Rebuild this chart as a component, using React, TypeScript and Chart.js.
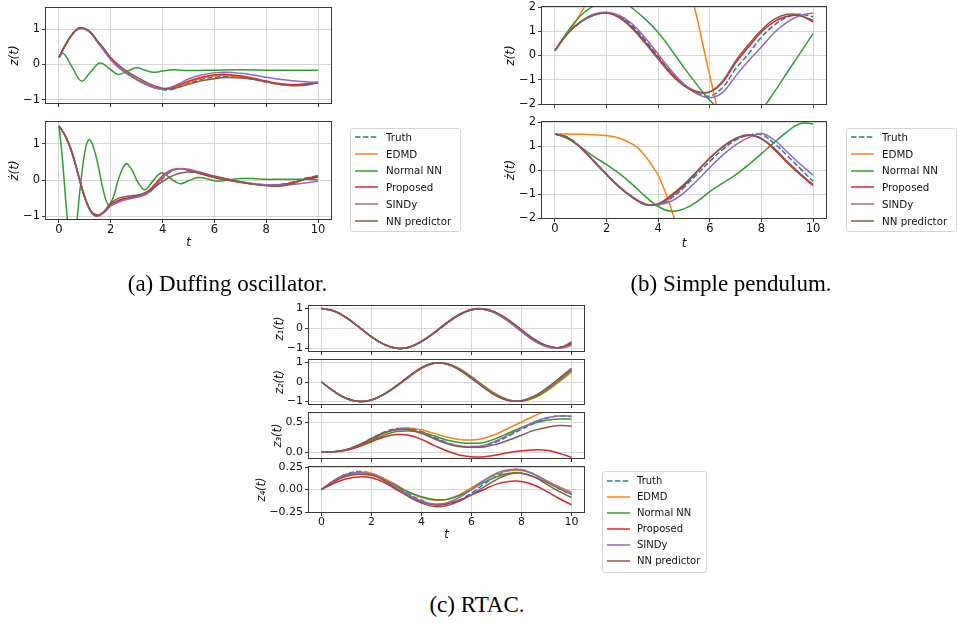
import React, { useEffect, useRef } from 'react';
import { Chart, registerables } from 'chart.js';

Chart.register(...registerables);

// ---------- shared ----------
const SERIES_NAMES = ['Truth', 'EDMD', 'Normal NN', 'Proposed', 'SINDy', 'NN predictor'];
const SERIES_COLORS = ['#1f77b4', '#ff7f0e', '#2ca02c', '#d62728', '#9467bd', '#8c564b'];
const X_TICKS = [0, 2, 4, 6, 8, 10];

// time grids
const T_A = [0, 0.25, 0.5, 0.75, 1, 1.25, 1.5, 1.75, 2, 2.25, 2.5, 2.75, 3, 3.25, 3.5, 3.75, 4, 4.25, 4.5, 4.75, 5, 5.5, 6, 6.5, 7, 7.5, 8, 8.5, 9, 9.5, 10];
const T_HALF = [0, 0.5, 1, 1.5, 2, 2.5, 3, 3.5, 4, 4.5, 5, 5.5, 6, 6.5, 7, 7.5, 8, 8.5, 9, 9.5, 10];

// ---------- (a) Duffing oscillator: z(t) ----------
const DUFF_Z_TRUTH = [0.2, 0.55, 0.84, 1.02, 1.01, 0.88, 0.63, 0.39, 0.15, -0.04, -0.19, -0.31, -0.42, -0.52, -0.6, -0.67, -0.71, -0.72, -0.67, -0.6, -0.53, -0.42, -0.36, -0.34, -0.36, -0.42, -0.5, -0.56, -0.59, -0.57, -0.5];
const DUFF_Z_EDMD = [0.2, 0.55, 0.84, 1.02, 1.01, 0.88, 0.63, 0.39, 0.15, -0.04, -0.19, -0.31, -0.42, -0.52, -0.6, -0.67, -0.7, -0.69, -0.64, -0.57, -0.5, -0.39, -0.32, -0.31, -0.35, -0.41, -0.49, -0.55, -0.58, -0.56, -0.5];
const T_DUFF_Z_NN = [0, 0.16, 0.5, 0.87, 1.2, 1.58, 1.95, 2.29, 2.65, 3.0, 3.3, 3.64, 4.0, 4.4, 5, 6, 7, 8, 9, 10];
const DUFF_Z_NN = [0.2, 0.32, -0.06, -0.47, -0.23, 0.04, -0.12, -0.28, -0.185, -0.09, -0.155, -0.22, -0.185, -0.15, -0.17, -0.16, -0.15, -0.16, -0.16, -0.16];
const DUFF_Z_PROP = [0.2, 0.55, 0.84, 1.02, 1.01, 0.88, 0.63, 0.39, 0.15, -0.04, -0.19, -0.31, -0.42, -0.52, -0.6, -0.66, -0.69, -0.68, -0.62, -0.55, -0.47, -0.36, -0.29, -0.28, -0.32, -0.39, -0.47, -0.54, -0.57, -0.55, -0.5];
const DUFF_Z_SINDY = [0.2, 0.55, 0.83, 1.0, 1.0, 0.87, 0.62, 0.38, 0.14, -0.05, -0.2, -0.32, -0.43, -0.53, -0.61, -0.67, -0.69, -0.66, -0.59, -0.5, -0.41, -0.3, -0.23, -0.22, -0.25, -0.3, -0.36, -0.42, -0.46, -0.49, -0.51];
const DUFF_Z_NNP = [0.2, 0.56, 0.85, 1.03, 1.02, 0.9, 0.66, 0.44, 0.2, 0.02, -0.13, -0.25, -0.36, -0.46, -0.55, -0.62, -0.67, -0.69, -0.67, -0.62, -0.56, -0.46, -0.4, -0.37, -0.38, -0.42, -0.49, -0.56, -0.6, -0.59, -0.52];

// ---------- (a) Duffing oscillator: dz/dt ----------
const DUFF_DZ_TRUTH = [1.5, 1.22, 0.78, 0.14, -0.48, -0.88, -0.98, -0.88, -0.7, -0.6, -0.54, -0.5, -0.46, -0.42, -0.33, -0.16, 0.04, 0.2, 0.29, 0.31, 0.28, 0.18, 0.08, 0.01, -0.05, -0.1, -0.13, -0.12, -0.06, 0.05, 0.12];
const DUFF_DZ_EDMD = [1.5, 1.22, 0.78, 0.14, -0.48, -0.88, -0.98, -0.88, -0.69, -0.59, -0.53, -0.49, -0.45, -0.4, -0.3, -0.12, 0.08, 0.23, 0.3, 0.31, 0.27, 0.17, 0.07, 0.0, -0.06, -0.11, -0.14, -0.13, -0.08, 0.02, 0.1];
const T_DUFF_DZ_NN = [0, 0.1, 0.2, 0.3, 0.4, 0.5, 0.6, 0.7, 0.8, 0.93, 1.05, 1.16, 1.3, 1.5, 1.7, 1.91, 2.1, 2.3, 2.58, 2.8, 3.05, 3.32, 3.6, 3.96, 4.3, 4.67, 5.0, 5.38, 5.75, 6.1, 6.6, 7, 7.5, 8, 8.5, 9, 9.5, 10];
const DUFF_DZ_NN = [1.5, 0.85, 0.0, -0.9, -1.6, -2.0, -1.8, -1.1, -0.35, 0.45, 0.95, 1.12, 0.98, 0.45, -0.25, -0.68, -0.47, 0.03, 0.45, 0.3, -0.06, -0.27, -0.05, 0.2, 0.05, -0.1, -0.02, 0.07, 0.03, -0.03, 0.01, 0.04, 0.04, 0.02, 0.02, 0.02, 0.02, 0.01];
const DUFF_DZ_PROP = [1.5, 1.22, 0.78, 0.14, -0.48, -0.88, -0.97, -0.87, -0.68, -0.58, -0.52, -0.48, -0.44, -0.38, -0.27, -0.08, 0.12, 0.25, 0.31, 0.31, 0.27, 0.17, 0.07, 0.0, -0.06, -0.11, -0.14, -0.13, -0.08, 0.02, 0.08];
const DUFF_DZ_SINDY = [1.5, 1.22, 0.78, 0.14, -0.48, -0.88, -0.99, -0.9, -0.72, -0.63, -0.56, -0.52, -0.48, -0.43, -0.33, -0.14, 0.08, 0.22, 0.3, 0.32, 0.3, 0.21, 0.1, 0.02, -0.05, -0.1, -0.13, -0.14, -0.12, -0.08, -0.03];
const DUFF_DZ_NNP = [1.5, 1.22, 0.76, 0.12, -0.5, -0.9, -1.0, -0.86, -0.64, -0.52, -0.47, -0.44, -0.42, -0.38, -0.3, -0.17, -0.04, 0.07, 0.15, 0.2, 0.22, 0.19, 0.11, 0.03, -0.05, -0.12, -0.16, -0.17, -0.1, 0.03, 0.12];

// ---------- (b) Simple pendulum: z(t) ----------
const PEND_Z_TRUTH = [0.2, 0.92, 1.38, 1.65, 1.74, 1.6, 1.22, 0.62, -0.05, -0.7, -1.2, -1.55, -1.67, -1.31, -0.55, 0.07, 0.76, 1.25, 1.59, 1.7, 1.6];
const T_PEND_Z_EDMD = [0, 0.25, 0.5, 0.75, 1, 1.25, 1.5, 2, 3, 4, 4.5, 5, 5.4, 5.8, 6.25, 6.5, 7, 8, 9, 10];
const PEND_Z_EDMD = [0.2, 0.58, 0.93, 1.3, 1.74, 2.2, 2.65, 3.4, 4.5, 4.6, 4.1, 3.3, 2.0, 0.1, -2.0, -3.2, -5.4, -9, -12, -15];
const PEND_Z_NN = [0.2, 1.0, 1.65, 2.05, 2.35, 2.35, 1.95, 1.5, 0.95, 0.25, -0.5, -1.2, -1.85, -2.3, -2.5, -2.45, -2.2, -1.5, -0.7, 0.1, 0.9];
const PEND_Z_PROP = [0.2, 0.92, 1.4, 1.68, 1.76, 1.58, 1.15, 0.55, -0.1, -0.72, -1.2, -1.48, -1.5, -1.1, -0.3, 0.35, 0.97, 1.4, 1.62, 1.64, 1.38];
const PEND_Z_SINDY = [0.2, 0.92, 1.4, 1.7, 1.78, 1.65, 1.3, 0.72, 0.05, -0.62, -1.18, -1.58, -1.74, -1.52, -0.85, -0.22, 0.35, 0.95, 1.38, 1.65, 1.75];
const PEND_Z_NNP = [0.2, 0.92, 1.38, 1.66, 1.75, 1.55, 1.1, 0.5, -0.15, -0.78, -1.25, -1.52, -1.5, -1.05, -0.22, 0.45, 1.05, 1.5, 1.7, 1.65, 1.45];

// ---------- (b) Simple pendulum: dz/dt ----------
const PEND_DZ_TRUTH = [1.5, 1.36, 0.95, 0.4, -0.17, -0.7, -1.12, -1.42, -1.46, -1.18, -0.72, -0.18, 0.36, 0.85, 1.25, 1.45, 1.47, 1.1, 0.6, 0.06, -0.47];
const T_PEND_DZ_EDMD = [0, 0.5, 1, 1.5, 2, 2.5, 3, 3.25, 3.5, 3.75, 4, 4.25, 4.5, 4.75, 5, 6, 8, 10];
const PEND_DZ_EDMD = [1.5, 1.5, 1.49, 1.47, 1.43, 1.32, 1.08, 0.88, 0.58, 0.2, -0.22, -0.85, -1.6, -2.5, -3.5, -8, -15, -20];
const PEND_DZ_NN = [1.5, 1.3, 0.95, 0.57, 0.22, -0.15, -0.6, -1.1, -1.52, -1.72, -1.62, -1.32, -0.9, -0.55, -0.2, 0.22, 0.68, 1.15, 1.6, 1.94, 1.92];
const PEND_DZ_PROP = [1.5, 1.35, 0.93, 0.38, -0.18, -0.7, -1.12, -1.42, -1.44, -1.1, -0.65, -0.08, 0.5, 0.95, 1.3, 1.44, 1.3, 0.85, 0.3, -0.2, -0.65];
const PEND_DZ_SINDY = [1.5, 1.35, 0.93, 0.38, -0.2, -0.72, -1.15, -1.44, -1.45, -1.3, -0.95, -0.45, 0.1, 0.62, 1.05, 1.35, 1.52, 1.25, 0.75, 0.25, -0.22];
const PEND_DZ_NNP = [1.5, 1.35, 0.92, 0.36, -0.2, -0.72, -1.14, -1.45, -1.4, -1.05, -0.6, -0.05, 0.5, 0.98, 1.32, 1.47, 1.32, 0.9, 0.35, -0.15, -0.6];

// ---------- (c) RTAC ----------
const RTAC_Z1_TRUTH = [1.0, 0.88, 0.54, 0.07, -0.42, -0.8, -0.99, -0.94, -0.65, -0.21, 0.28, 0.7, 0.95, 0.97, 0.75, 0.35, -0.14, -0.6, -0.9, -0.97, -0.8];
const RTAC_Z1_EDMD = [1.0, 0.88, 0.54, 0.07, -0.42, -0.8, -0.99, -0.94, -0.66, -0.23, 0.26, 0.68, 0.94, 0.97, 0.77, 0.38, -0.1, -0.56, -0.87, -0.97, -0.76];
const RTAC_Z1_NN = [1.0, 0.88, 0.54, 0.07, -0.42, -0.8, -0.99, -0.94, -0.65, -0.22, 0.27, 0.69, 0.94, 0.97, 0.76, 0.37, -0.12, -0.58, -0.88, -0.97, -0.78];
const RTAC_Z1_PROP = [1.0, 0.88, 0.54, 0.07, -0.42, -0.8, -0.99, -0.94, -0.66, -0.23, 0.25, 0.67, 0.93, 0.96, 0.78, 0.4, -0.08, -0.54, -0.86, -0.96, -0.74];
const RTAC_Z1_SINDY = [1.0, 0.88, 0.54, 0.07, -0.42, -0.8, -0.99, -0.94, -0.64, -0.2, 0.29, 0.71, 0.96, 0.98, 0.74, 0.33, -0.16, -0.62, -0.92, -0.98, -0.86];
const RTAC_Z1_NNP = [1.0, 0.88, 0.54, 0.07, -0.42, -0.8, -0.99, -0.94, -0.65, -0.22, 0.26, 0.68, 0.95, 0.99, 0.8, 0.42, -0.06, -0.52, -0.85, -0.97, -0.68];

const RTAC_Z2_TRUTH = [0.0, -0.48, -0.85, -1.0, -0.92, -0.63, -0.2, 0.28, 0.72, 0.97, 0.93, 0.66, 0.22, -0.26, -0.68, -0.94, -0.97, -0.77, -0.38, 0.12, 0.62];
const RTAC_Z2_EDMD = [0.0, -0.48, -0.85, -1.0, -0.92, -0.64, -0.22, 0.25, 0.69, 0.95, 0.95, 0.7, 0.28, -0.2, -0.63, -0.92, -0.99, -0.83, -0.48, 0.01, 0.5];
const RTAC_Z2_NN = [0.0, -0.48, -0.85, -1.0, -0.92, -0.63, -0.21, 0.27, 0.71, 0.96, 0.94, 0.68, 0.25, -0.23, -0.66, -0.93, -0.98, -0.8, -0.42, 0.07, 0.58];
const RTAC_Z2_PROP = [0.0, -0.48, -0.85, -1.0, -0.92, -0.63, -0.2, 0.28, 0.72, 0.97, 0.93, 0.66, 0.21, -0.27, -0.7, -0.95, -0.97, -0.75, -0.35, 0.16, 0.68];
const RTAC_Z2_SINDY = [0.0, -0.48, -0.85, -1.0, -0.92, -0.63, -0.19, 0.29, 0.73, 0.98, 0.93, 0.65, 0.2, -0.28, -0.7, -0.95, -0.96, -0.75, -0.36, 0.14, 0.64];
const RTAC_Z2_NNP = [0.0, -0.48, -0.85, -1.0, -0.92, -0.62, -0.19, 0.3, 0.74, 0.98, 0.92, 0.63, 0.18, -0.3, -0.72, -0.96, -0.96, -0.73, -0.32, 0.18, 0.7];

const RTAC_Z3_TRUTH = [0, 0.005, 0.04, 0.12, 0.23, 0.33, 0.39, 0.39, 0.34, 0.25, 0.16, 0.1, 0.085, 0.1, 0.17, 0.27, 0.38, 0.48, 0.56, 0.6, 0.59];
const RTAC_Z3_EDMD = [0, 0.005, 0.04, 0.11, 0.21, 0.31, 0.38, 0.4, 0.37, 0.31, 0.25, 0.21, 0.2, 0.23, 0.3, 0.4, 0.5, 0.6, 0.68, 0.73, 0.75];
const RTAC_Z3_NN = [0, 0.005, 0.035, 0.1, 0.19, 0.28, 0.34, 0.35, 0.33, 0.27, 0.2, 0.16, 0.145, 0.16, 0.23, 0.32, 0.41, 0.48, 0.53, 0.55, 0.545];
const RTAC_Z3_PROP = [0, 0.004, 0.03, 0.09, 0.17, 0.25, 0.29, 0.28, 0.21, 0.11, 0.02, -0.05, -0.08, -0.08, -0.05, -0.01, 0.02, 0.035, 0.03, -0.02, -0.09];
const RTAC_Z3_SINDY = [0, 0.005, 0.04, 0.12, 0.22, 0.32, 0.38, 0.38, 0.32, 0.23, 0.15, 0.1, 0.09, 0.11, 0.19, 0.29, 0.4, 0.5, 0.57, 0.6, 0.6];
const RTAC_Z3_NNP = [0, 0.005, 0.04, 0.12, 0.22, 0.32, 0.37, 0.37, 0.31, 0.22, 0.14, 0.09, 0.08, 0.085, 0.13, 0.2, 0.28, 0.36, 0.41, 0.44, 0.43];

const RTAC_Z4_TRUTH = [0, 0.1, 0.17, 0.2, 0.18, 0.12, 0.04, -0.05, -0.12, -0.17, -0.16, -0.12, -0.04, 0.06, 0.15, 0.21, 0.22, 0.17, 0.09, 0.01, -0.06];
const RTAC_Z4_EDMD = [0, 0.09, 0.16, 0.19, 0.18, 0.12, 0.05, -0.03, -0.09, -0.12, -0.11, -0.06, 0.02, 0.1, 0.17, 0.21, 0.21, 0.17, 0.1, 0.03, -0.03];
const RTAC_Z4_NN = [0, 0.09, 0.15, 0.17, 0.16, 0.11, 0.04, -0.03, -0.08, -0.11, -0.11, -0.07, 0.0, 0.08, 0.14, 0.18, 0.18, 0.14, 0.08, 0.01, -0.05];
const RTAC_Z4_PROP = [0, 0.07, 0.12, 0.14, 0.13, 0.08, 0.0, -0.08, -0.14, -0.17, -0.16, -0.12, -0.06, 0.0, 0.06, 0.09, 0.09, 0.05, -0.02, -0.1, -0.17];
const RTAC_Z4_SINDY = [0, 0.1, 0.17, 0.19, 0.17, 0.11, 0.03, -0.06, -0.13, -0.16, -0.15, -0.09, 0.0, 0.1, 0.18, 0.22, 0.22, 0.17, 0.09, 0.02, -0.05];
const RTAC_Z4_NNP = [0, 0.09, 0.15, 0.17, 0.16, 0.1, 0.01, -0.08, -0.15, -0.19, -0.18, -0.13, -0.06, 0.03, 0.11, 0.17, 0.18, 0.14, 0.06, -0.02, -0.09];

// ---------- panel specs (layout only, values come from the arrays above) ----------
type Series = { t: number[]; y: number[] };
type Panel = {
  left: number; top: number; right: number; bottom: number;
  titleX: number; xTitleY?: number;
  yMin: number; yMax: number; yTicks: number[]; yDec: number; yTitle: string;
  fs: number; tfs: number; series: Series[];
};

const S = (t: number[], y: number[]): Series => ({ t, y });

const PANELS: Panel[] = [
  {
    left: 46, top: 8, right: 331, bottom: 103, titleX: 15,
    yMin: -1.09, yMax: 1.6, yTicks: [-1, 0, 1], yDec: 0, yTitle: 'z(t)', fs: 11.5, tfs: 12,
    series: [S(T_A, DUFF_Z_TRUTH), S(T_A, DUFF_Z_EDMD), S(T_DUFF_Z_NN, DUFF_Z_NN), S(T_A, DUFF_Z_PROP), S(T_A, DUFF_Z_SINDY), S(T_A, DUFF_Z_NNP)],
  },
  {
    left: 46, top: 122, right: 331, bottom: 219, titleX: 15, xTitleY: 243,
    yMin: -1.08, yMax: 1.61, yTicks: [-1, 0, 1], yDec: 0, yTitle: 'ż(t)', fs: 11.5, tfs: 12,
    series: [S(T_A, DUFF_DZ_TRUTH), S(T_A, DUFF_DZ_EDMD), S(T_DUFF_DZ_NN, DUFF_DZ_NN), S(T_A, DUFF_DZ_PROP), S(T_A, DUFF_DZ_SINDY), S(T_A, DUFF_DZ_NNP)],
  },
  {
    left: 542, top: 7, right: 826, bottom: 104, titleX: 511,
    yMin: -2, yMax: 2, yTicks: [-2, -1, 0, 1, 2], yDec: 0, yTitle: 'z(t)', fs: 11.5, tfs: 12,
    series: [S(T_HALF, PEND_Z_TRUTH), S(T_PEND_Z_EDMD, PEND_Z_EDMD), S(T_HALF, PEND_Z_NN), S(T_HALF, PEND_Z_PROP), S(T_HALF, PEND_Z_SINDY), S(T_HALF, PEND_Z_NNP)],
  },
  {
    left: 542, top: 122, right: 826, bottom: 218, titleX: 511, xTitleY: 244,
    yMin: -2, yMax: 2, yTicks: [-2, -1, 0, 1, 2], yDec: 0, yTitle: 'ż(t)', fs: 11.5, tfs: 12,
    series: [S(T_HALF, PEND_DZ_TRUTH), S(T_PEND_DZ_EDMD, PEND_DZ_EDMD), S(T_HALF, PEND_DZ_NN), S(T_HALF, PEND_DZ_PROP), S(T_HALF, PEND_DZ_SINDY), S(T_HALF, PEND_DZ_NNP)],
  },
  {
    left: 309, top: 306, right: 584, bottom: 351, titleX: 279.5,
    yMin: -1.13, yMax: 1.13, yTicks: [-1, 0, 1], yDec: 0, yTitle: 'z₁(t)', fs: 11, tfs: 11.5,
    series: [S(T_HALF, RTAC_Z1_TRUTH), S(T_HALF, RTAC_Z1_EDMD), S(T_HALF, RTAC_Z1_NN), S(T_HALF, RTAC_Z1_PROP), S(T_HALF, RTAC_Z1_SINDY), S(T_HALF, RTAC_Z1_NNP)],
  },
  {
    left: 309, top: 360, right: 584, bottom: 404, titleX: 279.5,
    yMin: -1.13, yMax: 1.13, yTicks: [-1, 0, 1], yDec: 0, yTitle: 'z₂(t)', fs: 11, tfs: 11.5,
    series: [S(T_HALF, RTAC_Z2_TRUTH), S(T_HALF, RTAC_Z2_EDMD), S(T_HALF, RTAC_Z2_NN), S(T_HALF, RTAC_Z2_PROP), S(T_HALF, RTAC_Z2_SINDY), S(T_HALF, RTAC_Z2_NNP)],
  },
  {
    left: 309, top: 413, right: 584, bottom: 458, titleX: 278,
    yMin: -0.1, yMax: 0.65, yTicks: [0, 0.5], yDec: 1, yTitle: 'z₃(t)', fs: 11, tfs: 11.5,
    series: [S(T_HALF, RTAC_Z3_TRUTH), S(T_HALF, RTAC_Z3_EDMD), S(T_HALF, RTAC_Z3_NN), S(T_HALF, RTAC_Z3_PROP), S(T_HALF, RTAC_Z3_SINDY), S(T_HALF, RTAC_Z3_NNP)],
  },
  {
    left: 309, top: 467, right: 584, bottom: 512, titleX: 262, xTitleY: 535,
    yMin: -0.25, yMax: 0.25, yTicks: [-0.25, 0, 0.25], yDec: 2, yTitle: 'z₄(t)', fs: 11, tfs: 11.5,
    series: [S(T_HALF, RTAC_Z4_TRUTH), S(T_HALF, RTAC_Z4_EDMD), S(T_HALF, RTAC_Z4_NN), S(T_HALF, RTAC_Z4_PROP), S(T_HALF, RTAC_Z4_SINDY), S(T_HALF, RTAC_Z4_NNP)],
  },
];

const FONT = "'DejaVu Sans', sans-serif";
const TEXT_COLOR = '#111';
const GRID_COLOR = '#d6d6d6';
const SPINE_COLOR = '#3a3a3a';
const PAD_TOP = 12;
const PAD_RIGHT = 18;

const fmt = (v: number, dec: number) => {
  const s = Math.abs(v).toFixed(dec);
  return v < 0 ? '\u2212' + s : s;
};

function geom(p: Panel) {
  const lh = p.tfs * 1.2;
  const cLeft = Math.round(p.titleX - lh / 2);
  const cTop = p.top - PAD_TOP;
  const xAxisH = p.xTitleY !== undefined ? Math.round(p.xTitleY + lh / 2 - p.bottom) : 12;
  const w = p.right + PAD_RIGHT - cLeft;
  const h = PAD_TOP + (p.bottom - p.top) + xAxisH;
  return { cLeft, cTop, w, h, xAxisH, yAxisW: p.left - cLeft };
}

const framePlugin = {
  id: 'frame',
  afterDraw(chart: any) {
    const { ctx, chartArea: a } = chart;
    ctx.save();
    ctx.strokeStyle = SPINE_COLOR;
    ctx.lineWidth = 1;
    ctx.strokeRect(Math.round(a.left) - 0.5, Math.round(a.top) - 0.5, Math.round(a.right - a.left) + 1, Math.round(a.bottom - a.top) + 1);
    ctx.restore();
  },
};

function buildChart(canvas: HTMLCanvasElement, p: Panel) {
  const g = geom(p);
  const showX = p.xTitleY !== undefined;
  const tickFont = { family: FONT, size: p.fs };
  const titleFont = { family: FONT, size: p.tfs, style: 'italic' as const };
  return new Chart(canvas, {
    type: 'line',
    data: {
      datasets: p.series.map((s, i) => ({
        label: SERIES_NAMES[i],
        data: s.t.map((t, k) => ({ x: t, y: s.y[k] })),
        borderColor: SERIES_COLORS[i],
        backgroundColor: SERIES_COLORS[i],
        borderWidth: 1.5,
        borderDash: i === 0 ? [5.5, 2.4] : [],
        pointRadius: 0,
        tension: 0.4,
        fill: false,
        order: SERIES_NAMES.length - 1 - i,
      })),
    },
    options: {
      animation: false,
      responsive: false,
      devicePixelRatio: 1,
      events: [],
      layout: { padding: { top: PAD_TOP, right: PAD_RIGHT, left: 0, bottom: 0 } },
      elements: { line: { capBezierPoints: false } },
      plugins: { legend: { display: false }, tooltip: { enabled: false } },
      scales: {
        x: {
          type: 'linear',
          min: -0.5,
          max: 10.5,
          afterBuildTicks: (s: any) => { s.ticks = X_TICKS.map((v) => ({ value: v })); },
          afterFit: (s: any) => { s.height = g.xAxisH; },
          grid: { color: GRID_COLOR, lineWidth: 1, drawTicks: true, tickLength: 4, tickColor: SPINE_COLOR, tickWidth: 1 },
          border: { display: false },
          ticks: {
            autoSkip: false, maxRotation: 0, minRotation: 0, padding: 0,
            font: tickFont, color: TEXT_COLOR,
            callback: (v: any) => (showX ? fmt(Number(v), 0) : ''),
          },
          title: { display: showX, text: 't', font: titleFont, color: TEXT_COLOR, padding: 0 },
        },
        y: {
          type: 'linear',
          min: p.yMin,
          max: p.yMax,
          afterBuildTicks: (s: any) => { s.ticks = p.yTicks.map((v) => ({ value: v })); },
          afterFit: (s: any) => { s.width = g.yAxisW; },
          grid: { color: GRID_COLOR, lineWidth: 1, drawTicks: true, tickLength: 4, tickColor: SPINE_COLOR, tickWidth: 1 },
          border: { display: false },
          ticks: {
            autoSkip: false, padding: 2, font: tickFont, color: TEXT_COLOR,
            callback: (v: any) => fmt(Number(v), p.yDec),
          },
          title: { display: true, text: p.yTitle, font: titleFont, color: TEXT_COLOR, padding: 0 },
        },
      },
    } as any,
    plugins: [framePlugin],
  });
}

type LegendSpec = { left: number; top: number; width: number; height: number; row0: number; gap: number; x0: number; x1: number; textX: number; fs: number };

const LEGENDS: LegendSpec[] = [
  { left: 350, top: 128, width: 111, height: 104, row0: 137, gap: 16.8, x0: 355, x1: 378, textX: 386, fs: 10.3 },
  { left: 846, top: 128, width: 111, height: 104, row0: 137, gap: 16.8, x0: 851, x1: 874, textX: 882, fs: 10.3 },
  { left: 602, top: 471, width: 105, height: 102, row0: 481, gap: 16, x0: 607, x1: 630, textX: 637, fs: 10 },
];

const CAPTIONS = [
  { text: '(a) Duffing oscillator.', cx: 227.5, cy: 284 },
  { text: '(b) Simple pendulum.', cx: 731, cy: 284 },
  { text: '(c) RTAC.', cx: 477, cy: 605 },
];

function Legend({ s }: { s: LegendSpec }) {
  return (
    <>
      <div style={{ position: 'absolute', left: s.left, top: s.top, width: s.width, height: s.height, boxSizing: 'border-box', border: '1px solid #d4d4d4', borderRadius: 3, background: 'rgba(255,255,255,0.85)' }} />
      {SERIES_NAMES.map((name, i) => {
        const y = s.row0 + i * s.gap;
        return (
          <React.Fragment key={name}>
            <svg style={{ position: 'absolute', left: s.x0, top: y - 3 }} width={s.x1 - s.x0} height={6}>
              <line x1={0} y1={3} x2={s.x1 - s.x0} y2={3} stroke={SERIES_COLORS[i]} strokeWidth={1.5} strokeDasharray={i === 0 ? '5.5 2.4' : undefined} />
            </svg>
            <div style={{ position: 'absolute', left: s.textX, top: y - s.fs * 0.6, height: s.fs * 1.2, lineHeight: `${s.fs * 1.2}px`, fontFamily: FONT, fontSize: s.fs, color: TEXT_COLOR, whiteSpace: 'nowrap' }}>{name}</div>
          </React.Fragment>
        );
      })}
    </>
  );
}

export default function App() {
  const refs = useRef<(HTMLCanvasElement | null)[]>([]);
  useEffect(() => {
    const charts = PANELS.map((p, i) => buildChart(refs.current[i] as HTMLCanvasElement, p));
    return () => charts.forEach((c) => c.destroy());
  }, []);
  return (
    <div style={{ position: 'fixed', left: 0, top: 0, width: 958, height: 623, background: '#fff', overflow: 'hidden' }}>
      {PANELS.map((p, i) => {
        const g = geom(p);
        return (
          <canvas
            key={i}
            ref={(el) => { refs.current[i] = el; }}
            width={g.w}
            height={g.h}
            style={{ position: 'absolute', left: g.cLeft, top: g.cTop, width: g.w, height: g.h }}
          />
        );
      })}
      {LEGENDS.map((s, i) => <Legend key={i} s={s} />)}
      {CAPTIONS.map((c) => (
        <div key={c.text} style={{ position: 'absolute', left: c.cx, top: c.cy - 13, transform: 'translateX(-50%)', fontFamily: "'Liberation Serif', serif", fontSize: 23, lineHeight: '26px', color: '#000', whiteSpace: 'nowrap' }}>{c.text}</div>
      ))}
    </div>
  );
}
